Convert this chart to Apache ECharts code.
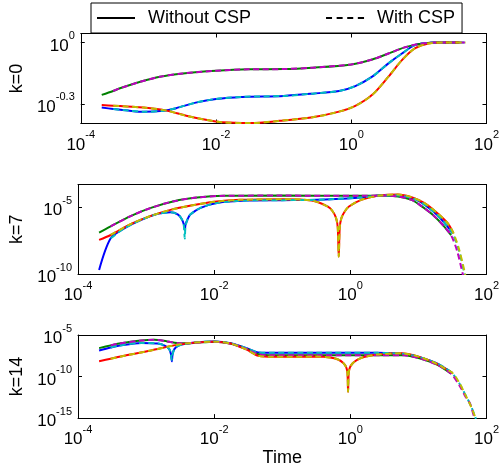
<!DOCTYPE html>
<html><head><meta charset="utf-8">
<script src="https://cdn.jsdelivr.net/npm/echarts@6/dist/echarts.min.js"></script>
<style>html,body{margin:0;padding:0;background:#fff}#c{width:502px;height:468px}</style>
</head><body><div id="c"></div>
<script>
// All values are log10: x = log10(Time), y = log10(value)
const panelNames = ['k=0', 'k=7', 'k=14'];
const xRange = [-4, 2];
const xStep = 2;
const yRanges = [[-0.396, 0.044], [-10, -3.3], [-15, -5]];
const ySteps = [0.3, 5, 5];
const yEdgeLabels = [[false, false], [true, false], [true, true]]; // show min / max label
const legendNames = ['Without CSP', 'With CSP'];

// ---- k = 0 ----
const k0_blue = [[-3.69,-0.318],[-3.52,-0.325],[-3.3,-0.333],[-3.07,-0.339],[-2.78,-0.334],[-2.59,-0.321],[-2.3,-0.294],[-2.0,-0.276],[-1.62,-0.266],[-1.0,-0.261],[-0.57,-0.25],[-0.18,-0.237],[0.06,-0.213],[0.31,-0.167],[0.55,-0.102],[0.75,-0.054],[0.94,-0.013],[1.14,-0.002],[1.35,0],[1.6,0]];
const k0_green = [[-3.69,-0.256],[-3.52,-0.237],[-3.42,-0.224],[-3.12,-0.192],[-2.83,-0.167],[-2.49,-0.151],[-2.0,-0.138],[-1.52,-0.131],[-1.0,-0.130],[-0.57,-0.123],[0.0,-0.107],[0.31,-0.083],[0.55,-0.054],[0.79,-0.024],[0.99,-0.008],[1.23,0],[1.6,0]];
const k0_red = [[-3.69,-0.306],[-3.52,-0.309],[-3.32,-0.313],[-3.07,-0.318],[-2.73,-0.333],[-2.44,-0.358],[-2.15,-0.378],[-1.9,-0.390],[-1.5,-0.394],[-1.06,-0.383],[-0.57,-0.365],[-0.18,-0.338],[0.06,-0.31],[0.31,-0.256],[0.55,-0.167],[0.75,-0.086],[0.94,-0.029],[1.14,-0.005],[1.4,0],[1.6,0]];
const k0_cyan = [[-3.52,-0.325],[-3.3,-0.333],[-3.07,-0.339],[-2.78,-0.334],[-2.59,-0.321],[-2.3,-0.294],[-2.0,-0.276],[-1.62,-0.266],[-1.0,-0.261],[-0.57,-0.25],[-0.18,-0.237],[0.06,-0.213],[0.31,-0.167],[0.55,-0.102],[0.75,-0.054],[0.94,-0.013],[1.14,-0.002],[1.35,0],[1.69,0]];
const k0_magenta = [[-3.52,-0.237],[-3.42,-0.224],[-3.12,-0.192],[-2.83,-0.167],[-2.49,-0.151],[-2.0,-0.138],[-1.52,-0.131],[-1.0,-0.130],[-0.57,-0.123],[0.0,-0.107],[0.31,-0.083],[0.55,-0.054],[0.79,-0.024],[0.99,-0.008],[1.23,0],[1.69,0]];
const k0_yellow = [[-3.52,-0.309],[-3.32,-0.313],[-3.07,-0.318],[-2.73,-0.333],[-2.44,-0.358],[-2.15,-0.378],[-1.9,-0.390],[-1.5,-0.394],[-1.06,-0.383],[-0.57,-0.365],[-0.18,-0.338],[0.06,-0.31],[0.31,-0.256],[0.55,-0.167],[0.75,-0.086],[0.94,-0.029],[1.14,-0.005],[1.4,0],[1.69,0]];

// ---- k = 7 ----
const k7_blue = [[-3.69,-9.7],[-3.52,-7.33],[-3.32,-6.58],[-3.07,-5.95],[-2.83,-5.5],[-2.64,-5.38],[-2.53,-5.55],[-2.475,-5.9],[-2.445,-6.3],[-2.432,-6.7],[-2.42,-6.3],[-2.39,-5.9],[-2.35,-5.55],[-2.2,-5.05],[-1.96,-4.68],[-1.52,-4.5],[-1.0,-4.47],[-0.5,-4.45],[0.16,-4.27],[0.5,-4.1],[0.75,-4.15],[0.95,-4.4],[1.1,-4.85],[1.28,-5.6],[1.42,-6.4],[1.5,-6.95]];
const k7_green = [[-3.69,-6.9],[-3.52,-6.43],[-3.22,-5.65],[-2.93,-5.05],[-2.59,-4.55],[-2.25,-4.28],[-1.86,-4.15],[-1.0,-4.13],[0.16,-4.15],[0.45,-4.12],[0.7,-4.2],[0.9,-4.45],[1.04,-4.9],[1.23,-5.65],[1.38,-6.45],[1.48,-7.1]];
const k7_red = [[-3.69,-7.45],[-3.52,-7.08],[-3.22,-6.25],[-2.93,-5.65],[-2.64,-5.2],[-2.34,-4.88],[-2.0,-4.6],[-1.62,-4.45],[-1.0,-4.4],[-0.57,-4.5],[-0.33,-4.95],[-0.26,-5.3],[-0.21,-5.8],[-0.185,-6.5],[-0.17,-8.7],[-0.155,-6.5],[-0.13,-5.8],[-0.08,-5.3],[-0.02,-4.95],[0.16,-4.45],[0.4,-4.15],[0.7,-4.05],[0.9,-4.25],[1.09,-4.7],[1.28,-5.45],[1.43,-6.2],[1.515,-6.95]];
const k7_cyan = [[-3.52,-7.33],[-3.32,-6.58],[-3.07,-5.95],[-2.83,-5.5],[-2.64,-5.38],[-2.53,-5.55],[-2.475,-5.9],[-2.445,-6.4],[-2.432,-7.35],[-2.42,-6.4],[-2.39,-5.9],[-2.35,-5.55],[-2.2,-5.05],[-1.96,-4.68],[-1.52,-4.5],[-1.0,-4.47],[-0.5,-4.45],[0.16,-4.27],[0.5,-4.1],[0.75,-4.15],[0.95,-4.4],[1.1,-4.85],[1.28,-5.6],[1.42,-6.4],[1.5,-6.95],[1.6,-8.33],[1.68,-10.1]];
const k7_magenta = [[-3.52,-6.43],[-3.22,-5.65],[-2.93,-5.05],[-2.59,-4.55],[-2.25,-4.28],[-1.86,-4.15],[-1.0,-4.13],[0.16,-4.15],[0.45,-4.12],[0.7,-4.2],[0.9,-4.45],[1.04,-4.9],[1.23,-5.65],[1.38,-6.45],[1.48,-7.1],[1.57,-8.3],[1.655,-10.1]];
const k7_yellow = [[-3.52,-7.08],[-3.22,-6.25],[-2.93,-5.65],[-2.64,-5.2],[-2.34,-4.88],[-2.0,-4.6],[-1.62,-4.45],[-1.0,-4.4],[-0.57,-4.5],[-0.33,-4.95],[-0.26,-5.3],[-0.21,-5.8],[-0.185,-6.5],[-0.17,-8.7],[-0.155,-6.5],[-0.13,-5.8],[-0.08,-5.3],[-0.02,-4.95],[0.16,-4.45],[0.4,-4.15],[0.7,-4.05],[0.9,-4.25],[1.09,-4.7],[1.28,-5.45],[1.43,-6.2],[1.515,-6.95],[1.6,-8.2],[1.69,-10.1]];

// ---- k = 14 ----
const k14_blue = [[-3.69,-6.87],[-3.52,-6.5],[-3.42,-6.32],[-3.07,-5.95],[-2.83,-6.03],[-2.72,-6.3],[-2.66,-6.7],[-2.635,-7.3],[-2.622,-8.16],[-2.61,-7.3],[-2.585,-6.7],[-2.53,-6.3],[-2.44,-6.1],[-2.25,-5.88],[-2.0,-5.78],[-1.76,-6.0],[-1.52,-6.6],[-1.35,-7.1],[-1.13,-7.15],[-0.5,-7.13],[0.4,-7.15],[0.79,-7.28],[1.04,-7.72],[1.28,-8.45],[1.49,-9.56]];
const k14_green = [[-3.69,-6.58],[-3.52,-6.25],[-3.42,-6.06],[-3.07,-5.66],[-2.88,-5.58],[-2.69,-5.77],[-2.49,-6.0],[-2.3,-5.95],[-2.0,-5.8],[-1.76,-6.03],[-1.52,-6.69],[-1.35,-7.32],[-1.13,-7.45],[-0.5,-7.43],[0.4,-7.43],[0.79,-7.45],[1.04,-7.87],[1.28,-8.6],[1.475,-9.63]];
const k14_red = [[-3.69,-8.16],[-3.52,-7.85],[-3.32,-7.5],[-2.93,-6.87],[-2.59,-6.25],[-2.34,-5.95],[-2.0,-5.8],[-1.76,-6.03],[-1.52,-6.77],[-1.35,-7.5],[-1.13,-7.62],[-0.5,-7.6],[-0.3,-7.7],[-0.18,-7.95],[-0.1,-8.4],[-0.06,-8.9],[-0.042,-9.6],[-0.033,-11.84],[-0.024,-9.6],[-0.006,-8.9],[0.035,-8.4],[0.1,-8.0],[0.2,-7.65],[0.4,-7.35],[0.75,-7.2],[0.99,-7.57],[1.23,-8.31],[1.4,-9.08],[1.5,-9.56]];
const k14_cyan = [[-3.52,-6.5],[-3.42,-6.32],[-3.07,-5.95],[-2.83,-6.03],[-2.72,-6.3],[-2.66,-6.7],[-2.635,-7.3],[-2.622,-8.0],[-2.61,-7.3],[-2.585,-6.7],[-2.53,-6.3],[-2.44,-6.1],[-2.25,-5.88],[-2.0,-5.78],[-1.76,-6.0],[-1.52,-6.6],[-1.35,-7.1],[-1.13,-7.15],[-0.5,-7.13],[0.4,-7.15],[0.79,-7.28],[1.04,-7.72],[1.28,-8.45],[1.49,-9.56],[1.6,-10.8],[1.69,-12.2],[1.77,-13.5],[1.845,-15.1]];
const k14_magenta = [[-3.52,-6.25],[-3.42,-6.06],[-3.07,-5.66],[-2.88,-5.58],[-2.69,-5.77],[-2.49,-6.0],[-2.3,-5.95],[-2.0,-5.8],[-1.76,-6.03],[-1.52,-6.69],[-1.35,-7.32],[-1.13,-7.45],[-0.5,-7.43],[0.4,-7.43],[0.79,-7.45],[1.04,-7.87],[1.28,-8.6],[1.475,-9.63],[1.6,-11.03],[1.69,-12.4],[1.76,-13.3],[1.825,-15.1]];
const k14_yellow = [[-3.52,-7.85],[-3.32,-7.5],[-2.93,-6.87],[-2.59,-6.25],[-2.34,-5.95],[-2.0,-5.8],[-1.76,-6.03],[-1.52,-6.77],[-1.35,-7.5],[-1.13,-7.62],[-0.5,-7.6],[-0.3,-7.7],[-0.18,-7.95],[-0.1,-8.4],[-0.06,-8.9],[-0.042,-9.6],[-0.033,-11.84],[-0.024,-9.6],[-0.006,-8.9],[0.035,-8.4],[0.1,-8.0],[0.2,-7.65],[0.4,-7.35],[0.75,-7.2],[0.99,-7.57],[1.23,-8.31],[1.4,-9.08],[1.5,-9.56],[1.6,-10.74],[1.69,-12.2],[1.767,-13.5],[1.845,-15.1]];

const panelSolid = [[k0_blue, k0_green, k0_red], [k7_blue, k7_green, k7_red], [k14_blue, k14_green, k14_red]];
const panelDashed = [[k0_cyan, k0_magenta, k0_yellow], [k7_cyan, k7_magenta, k7_yellow], [k14_cyan, k14_magenta, k14_yellow]];

const solidColors = ['#0000ff', '#008000', '#ff0000'];
const dashedColors = ['#00bfbf', '#bf00bf', '#bfbf00'];
const FONT = '"Liberation Sans", Arial, Helvetica, sans-serif';
const DASH = [6, 3.5];

const gridLayout = [
  {left: 78, width: 411, top: 33.5, height: 90},
  {left: 78, width: 411, top: 184.5, height: 89.5},
  {left: 78, width: 411, top: 335, height: 90.5}
];

function expLabel(v) {
  const e = Math.round(v * 10) / 10;
  return '{b|10}{s|' + e + '}';
}
const rich = {
  b: {fontSize: 17, lineHeight: 24, verticalAlign: 'bottom', fontFamily: FONT, color: '#000'},
  s: {fontSize: 11, lineHeight: 12, verticalAlign: 'top', fontFamily: FONT, color: '#000'}
};
const axisLine = {onZero: false, lineStyle: {color: '#000', width: 1}};
const tick = {inside: true, length: 4, lineStyle: {color: '#000', width: 1}};

const xAxes = [], yAxes = [], series = [];
gridLayout.forEach((g, i) => {
  const xb = {
    type: 'value', gridIndex: i, min: xRange[0], max: xRange[1], interval: xStep,
    axisLine: axisLine, axisTick: tick, splitLine: {show: false}
  };
  const xMain = Object.assign({}, xb, {
    position: 'bottom',
    axisLabel: {formatter: expLabel, rich: rich, margin: 6, color: '#000'}
  });
  if (i === 2) {
    xMain.name = 'Time'; xMain.nameLocation = 'middle'; xMain.nameGap = 22;
    xMain.nameTextStyle = {fontSize: 18, fontFamily: FONT, color: '#000'};
  }
  xAxes.push(xMain);
  xAxes.push(Object.assign({}, xb, {position: 'top', axisLabel: {show: false}}));
  const yr = yRanges[i], st = ySteps[i];
  const yb = {
    type: 'value', gridIndex: i, min: yr[0], max: yr[1], minInterval: st, maxInterval: st,
    axisLine: axisLine, axisTick: tick, splitLine: {show: false}
  };
  yAxes.push(Object.assign({}, yb, {
    position: 'left', name: panelNames[i], nameLocation: 'middle', nameGap: 44,
    nameTextStyle: {fontSize: 18, fontFamily: FONT, color: '#000'},
    axisLabel: {formatter: expLabel, rich: rich, margin: 6, color: '#000',
      showMinLabel: yEdgeLabels[i][0], showMaxLabel: yEdgeLabels[i][1]}
  }));
  yAxes.push(Object.assign({}, yb, {position: 'right', axisLabel: {show: false}}));
  panelSolid[i].forEach((d, j) => series.push({
    type: 'line', name: panelNames[i] + ' solid ' + j, xAxisIndex: 2 * i, yAxisIndex: 2 * i,
    data: d, showSymbol: false, symbol: 'none', smooth: 0.3, animation: false,
    lineStyle: {color: solidColors[j], width: 2}, silent: true
  }));
  panelDashed[i].forEach((d, j) => series.push({
    type: 'line', name: panelNames[i] + ' dashed ' + j, xAxisIndex: 2 * i, yAxisIndex: 2 * i,
    data: d, showSymbol: false, symbol: 'none', smooth: 0.3, animation: false,
    lineStyle: {color: dashedColors[j], width: 2, type: DASH}, silent: true
  }));
});
// legend-only series
series.push({type: 'line', name: legendNames[0], xAxisIndex: 0, yAxisIndex: 0, data: [], symbol: 'none',
  itemStyle: {color: '#000'}, lineStyle: {color: '#000', width: 2}});
series.push({type: 'line', name: legendNames[1], xAxisIndex: 0, yAxisIndex: 0, data: [], symbol: 'none',
  itemStyle: {color: '#000'}, lineStyle: {color: '#000', width: 2, type: [5, 3.5]}});

const chart = echarts.init(document.getElementById('c'));
chart.setOption({
  animation: false,
  backgroundColor: '#fff',
  textStyle: {fontFamily: FONT},
  legend: {
    data: [
      {name: legendNames[0], icon: 'path://M0,0H38V2H0Z'},
      {name: legendNames[1], icon: 'path://M0,0H6V2H0Z M10.6,0H16.6V2H10.6Z M21.2,0H27.2V2H21.2Z M31.8,0H38V2H31.8Z'}
    ],
    left: 91, top: 3, itemWidth: 38, itemHeight: 14, itemGap: 75, symbolKeepAspect: true,
    padding: [6, 7, 6, 6], borderColor: '#000', borderWidth: 1, backgroundColor: '#fff',
    itemStyle: {color: '#000'},
    textStyle: {fontSize: 18, fontFamily: FONT, color: '#000', padding: [0, 0, 0, 8]},
    selectedMode: false
  },
  grid: gridLayout,
  xAxis: xAxes,
  yAxis: yAxes,
  series: series
});
</script>
</body></html>
